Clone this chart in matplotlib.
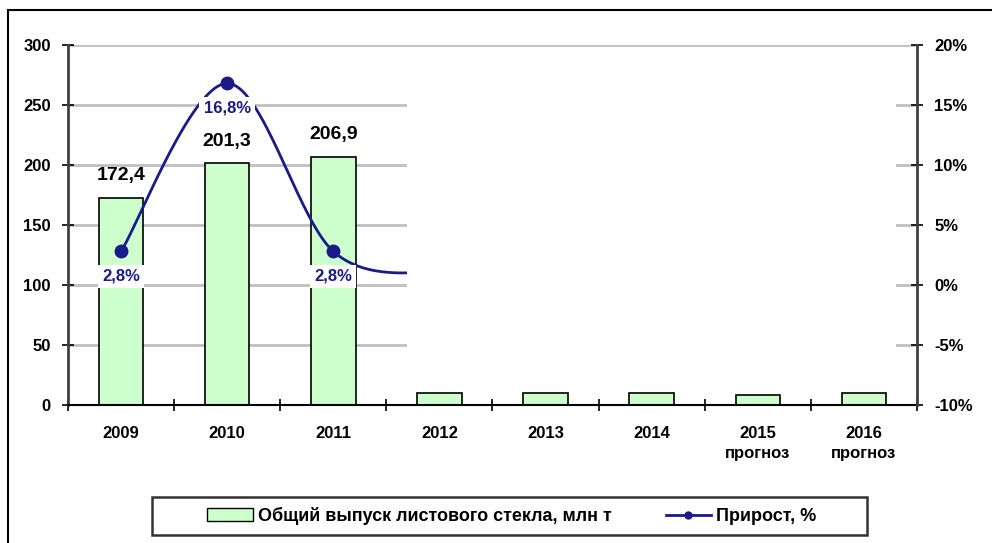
import matplotlib
matplotlib.use('Agg')
import matplotlib.pyplot as plt
import numpy as np
from matplotlib.patches import Rectangle, Patch
from matplotlib.lines import Line2D

plt.rcParams['font.family'] = ['Liberation Sans', 'DejaVu Sans']
plt.rcParams['font.weight'] = 'bold'

# данные
years = ['2009', '2010', '2011', '2012', '2013', '2014', '2015\nпрогноз', '2016\nпрогноз']
output = [172.4, 201.3, 206.9, 10, 10, 10, 8, 10]      # млн т
growth = [2.8, 16.8, 2.8, 1.0]                          # %
bar_labels = ['172,4', '201,3', '206,9']
growth_labels = ['2,8%', '16,8%', '2,8%']

green = '#CCFFCC'
navy = '#1A1A8A'
grid_c = '#C0C0C0'
spine_c = '#404040'


def smooth(xs, ys, n=60):
    # кривая в стиле Excel (Catmull-Rom через Безье)
    xs = np.asarray(xs, float)
    ys = np.asarray(ys, float)
    px, py = [], []
    for i in range(len(xs) - 1):
        x0, y0 = (xs[i - 1], ys[i - 1]) if i > 0 else (xs[i], ys[i])
        x3, y3 = (xs[i + 2], ys[i + 2]) if i + 2 < len(xs) else (xs[i + 1], ys[i + 1])
        c1x = xs[i] + (xs[i + 1] - x0) / 6
        c1y = ys[i] + (ys[i + 1] - y0) / 6
        c2x = xs[i + 1] - (x3 - xs[i]) / 6
        c2y = ys[i + 1] - (y3 - ys[i]) / 6
        t = np.linspace(0, 1, n)
        a, b, c, d = (1 - t) ** 3, 3 * (1 - t) ** 2 * t, 3 * (1 - t) * t ** 2, t ** 3
        px.append(a * xs[i] + b * c1x + c * c2x + d * xs[i + 1])
        py.append(a * ys[i] + b * c1y + c * c2y + d * ys[i + 1])
    return np.concatenate(px), np.concatenate(py)


fig = plt.figure(figsize=(9.92, 5.43), dpi=100)
ax = fig.add_axes([68 / 992, 1 - 405 / 543, (917 - 68) / 992, 360 / 543])
ax2 = ax.twinx()

x = np.arange(len(years))
ax.bar(x, output, width=0.42, color=green, edgecolor='black', linewidth=1.2, zorder=2)
ax.set_xlim(-0.5, len(years) - 0.5)
ax.set_ylim(0, 300)
ax.set_yticks(np.arange(0, 301, 50))
ax.yaxis.grid(True, color=grid_c, linewidth=2, zorder=0)
ax.set_axisbelow(True)

for i, lab in enumerate(bar_labels):
    ax.annotate(lab, (x[i], output[i]), xytext=(0, 10), textcoords='offset points',
                ha='center', va='bottom', fontsize=14, fontweight='bold')

# x: деления между категориями
ax.set_xticks(np.arange(-0.5, len(years), 1))
ax.set_xticklabels([])
ax.set_xticks(x, minor=True)
ax.set_xticklabels(years, minor=True, fontsize=12, fontweight='bold', linespacing=1.4)
ax.tick_params(axis='x', which='major', direction='inout', length=9, width=1.2, color='black')
ax.tick_params(axis='x', which='minor', length=0, pad=15)
ax.tick_params(axis='y', direction='inout', length=9, width=1.2, color='black',
               labelsize=12, pad=8)
for lbl in ax.get_yticklabels():
    lbl.set_fontweight('bold')

for s in ['top', 'right']:
    ax.spines[s].set_visible(False)
ax.spines['left'].set_color(spine_c)
ax.spines['left'].set_linewidth(2)
ax.spines['bottom'].set_color('black')
ax.spines['bottom'].set_linewidth(1.5)

ax2.set_ylim(-10, 20)
ax2.set_yticks(np.arange(-10, 21, 5))
ax2.set_yticklabels([f'{v}%' for v in range(-10, 21, 5)])
ax2.tick_params(axis='y', direction='inout', length=9, width=1.2, color='black',
                labelsize=12, pad=8)
for lbl in ax2.get_yticklabels():
    lbl.set_fontweight('bold')
for s in ['top', 'left', 'bottom']:
    ax2.spines[s].set_visible(False)
ax2.spines['right'].set_color(spine_c)
ax2.spines['right'].set_linewidth(2)

sx, sy = smooth(x[:len(growth)], growth)
ax2.plot(sx, sy, color=navy, linewidth=2, zorder=3)
ax2.plot(x[:len(growth)], growth, 'o', color=navy, markersize=9, zorder=3)
for i, lab in enumerate(growth_labels):
    ax2.annotate(lab, (x[i], growth[i]), xytext=(0, -18), textcoords='offset points',
                 ha='center', va='center', fontsize=12, fontweight='bold', color=navy,
                 bbox=dict(boxstyle='square,pad=0.25', fc='white', ec='none'), zorder=6)

# белая заливка поверх части области построения (как в исходнике)
ax2.add_patch(Rectangle((2.69, 12.5), 7.3 - 2.69, 296 - 12.5, transform=ax.transData,
                        facecolor='white', edgecolor='none', zorder=5))

# рамка вокруг всего рисунка
fig.patches.append(Rectangle((8 / 992, -0.1), 1.2, 1 - 10 / 543 + 0.1,
                             transform=fig.transFigure, fill=False,
                             edgecolor='black', linewidth=1.5))

# легенда: рамка отдельно, чтобы были широкие поля
fig.patches.append(Rectangle((152 / 992, 1 - 535 / 543), (867 - 152) / 992, 38 / 543,
                             transform=fig.transFigure, fill=False,
                             edgecolor='#333333', linewidth=1.8))
handles = [Patch(facecolor=green, edgecolor='black', linewidth=1),
           Line2D([0], [0], color=navy, linewidth=2, marker='o', markersize=5)]
leg = fig.legend(handles, ['Общий выпуск листового стекла, млн т', 'Прирост, %'],
                 loc='center', bbox_to_anchor=(512 / 992, 1 - 516 / 543), ncol=2,
                 frameon=False, fontsize=13, columnspacing=3.0, handlelength=2.5,
                 handletextpad=0.3, borderaxespad=0)
for t in leg.get_texts():
    t.set_fontweight('bold')

fig.savefig('out.png', dpi=100)
